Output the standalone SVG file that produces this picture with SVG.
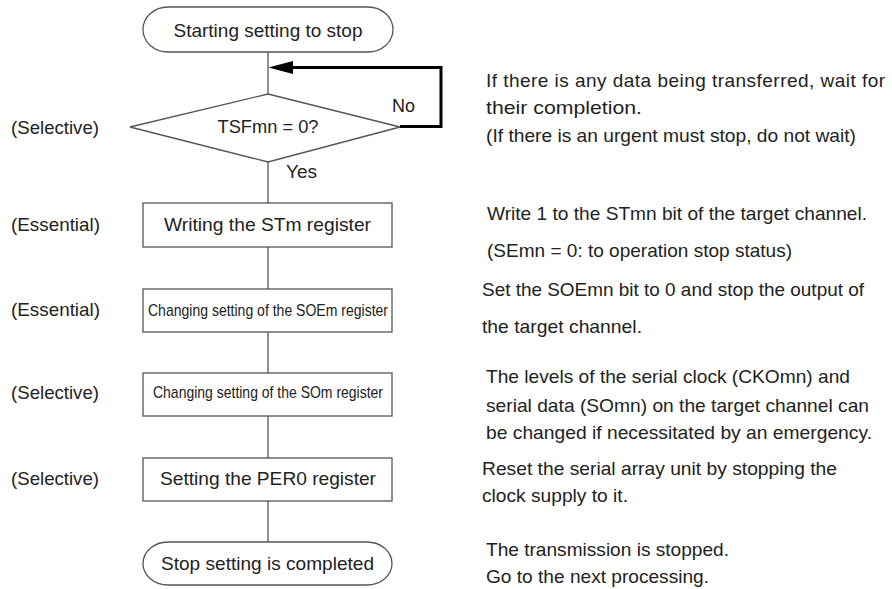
<svg xmlns="http://www.w3.org/2000/svg" width="892" height="589" viewBox="0 0 892 589">
<style>
text{font-family:"Liberation Sans",Arial,Helvetica,sans-serif;font-size:19px;fill:#222}
.c{text-anchor:middle}
.sm{font-size:17px}
.shape{fill:#fff;stroke:#555;stroke-width:1.3}
.ln{stroke:#555;stroke-width:1.3;fill:none}
.loop{stroke:#000;stroke-width:3;fill:none}
</style>
<rect width="892" height="589" fill="#fff"/>
<g id="connectors">
<line class="ln" x1="268" y1="52" x2="268" y2="94"/>
<line class="ln" x1="268" y1="162" x2="268" y2="203"/>
<line class="ln" x1="268" y1="247" x2="268" y2="289"/>
<line class="ln" x1="268" y1="332" x2="268" y2="373"/>
<line class="ln" x1="268" y1="416" x2="268" y2="458"/>
<line class="ln" x1="268" y1="501" x2="268" y2="542"/>
<polyline class="loop" points="400,126.5 441,126.5 441,67.5 292,67.5"/>
<polygon points="268.5,67.5 293,61 293,74" fill="#000"/>
<text x="392" y="112" textLength="23" lengthAdjust="spacingAndGlyphs">No</text>
<text x="286" y="178" textLength="31" lengthAdjust="spacingAndGlyphs">Yes</text>
</g>
<g id="start">
<rect class="shape" x="143" y="7" width="250" height="45" rx="25" ry="22.5"/>
<text class="c" x="268" y="37" textLength="189" lengthAdjust="spacingAndGlyphs">Starting setting to stop</text>
</g>
<g id="decision">
<polygon class="shape" points="268,94 400,127 268,162 130,127"/>
<text class="c" x="268" y="133" textLength="101" lengthAdjust="spacingAndGlyphs">TSFmn = 0?</text>
<text x="11" y="134" textLength="88" lengthAdjust="spacingAndGlyphs">(Selective)</text>
<text x="486" y="87" textLength="399" lengthAdjust="spacing">If there is any data being transferred, wait for</text>
<text x="486" y="114" textLength="156" lengthAdjust="spacingAndGlyphs">their completion.</text>
<text x="486" y="142" textLength="370" lengthAdjust="spacingAndGlyphs">(If there is an urgent must stop, do not wait)</text>
</g>
<g id="box1">
<rect class="shape" x="143" y="203" width="249" height="44"/>
<text class="c" x="267.5" y="231" textLength="207" lengthAdjust="spacingAndGlyphs">Writing the STm register</text>
<text x="11" y="231" textLength="89" lengthAdjust="spacingAndGlyphs">(Essential)</text>
<text x="487" y="220" textLength="380" lengthAdjust="spacingAndGlyphs">Write 1 to the STmn bit of the target channel.</text>
<text x="487" y="257" textLength="305" lengthAdjust="spacingAndGlyphs">(SEmn = 0: to operation stop status)</text>
</g>
<g id="box2">
<rect class="shape" x="143" y="289" width="249" height="43"/>
<text class="c sm" x="268" y="316" textLength="240" lengthAdjust="spacingAndGlyphs">Changing setting of the SOEm register</text>
<text x="11" y="316" textLength="89" lengthAdjust="spacingAndGlyphs">(Essential)</text>
<text x="482" y="296" textLength="382" lengthAdjust="spacingAndGlyphs">Set the SOEmn bit to 0 and stop the output of</text>
<text x="482" y="333" textLength="160" lengthAdjust="spacingAndGlyphs">the target channel.</text>
</g>
<g id="box3">
<rect class="shape" x="143" y="373" width="249" height="43"/>
<text class="c sm" x="268" y="398" textLength="230" lengthAdjust="spacingAndGlyphs">Changing setting of the SOm register</text>
<text x="11" y="399" textLength="88" lengthAdjust="spacingAndGlyphs">(Selective)</text>
<text x="486" y="383" textLength="364" lengthAdjust="spacingAndGlyphs">The levels of the serial clock (CKOmn) and</text>
<text x="486" y="412" textLength="383" lengthAdjust="spacingAndGlyphs">serial data (SOmn) on the target channel can</text>
<text x="486" y="439" textLength="386" lengthAdjust="spacingAndGlyphs">be changed if necessitated by an emergency.</text>
</g>
<g id="box4">
<rect class="shape" x="143" y="458" width="249" height="43"/>
<text class="c" x="268" y="485" textLength="216" lengthAdjust="spacingAndGlyphs">Setting the PER0 register</text>
<text x="11" y="485" textLength="88" lengthAdjust="spacingAndGlyphs">(Selective)</text>
<text x="482" y="475" textLength="355" lengthAdjust="spacingAndGlyphs">Reset the serial array unit by stopping the</text>
<text x="482" y="502" textLength="146" lengthAdjust="spacingAndGlyphs">clock supply to it.</text>
</g>
<g id="end">
<rect class="shape" x="143" y="542" width="249" height="43" rx="25" ry="21.5"/>
<text class="c" x="267.5" y="570" textLength="213" lengthAdjust="spacingAndGlyphs">Stop setting is completed</text>
<text x="486" y="556" textLength="243" lengthAdjust="spacingAndGlyphs">The transmission is stopped.</text>
<text x="486" y="583" textLength="223" lengthAdjust="spacingAndGlyphs">Go to the next processing.</text>
</g>
</svg>
